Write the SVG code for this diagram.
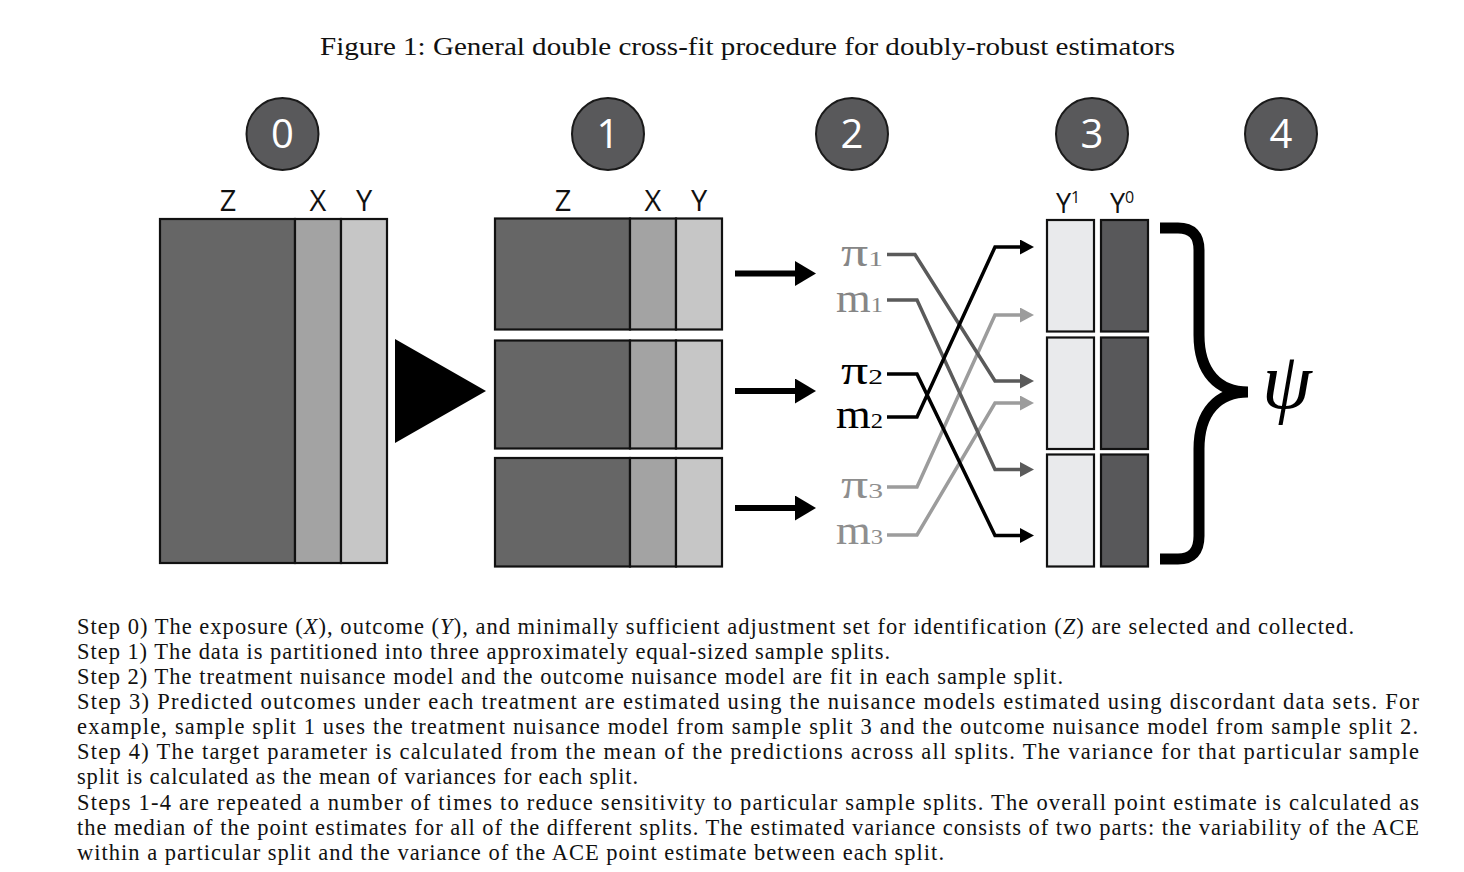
<svg xmlns="http://www.w3.org/2000/svg" width="1464" height="872" viewBox="0 0 1464 872">
<style>
.bg{fill:#ffffff}
.step circle{fill:#59595b;stroke:#1a1a1a;stroke-width:2}
.step text{font-family:"Open Sans","DejaVu Sans",sans-serif;font-size:40px;fill:#ffffff;text-anchor:middle}
.lab{font-family:"Open Sans","DejaVu Sans",sans-serif;font-size:29px;fill:#111;text-anchor:middle}
.ylab{font-family:"Open Sans","DejaVu Sans",sans-serif;font-size:27px;fill:#111}
.z{fill:#666666;stroke:#111;stroke-width:2.2}
.x{fill:#a3a3a3;stroke:#111;stroke-width:2.2}
.y{fill:#c6c6c6;stroke:#111;stroke-width:2.2}
.y1{fill:#e9eaec;stroke:#111;stroke-width:2.2}
.y0{fill:#58585a;stroke:#111;stroke-width:2.2}
.mdl{font-family:"Liberation Serif","Times New Roman",serif;font-size:40px}
.sub{font-size:22px}
.big{stroke:#000;stroke-width:6;fill:none;marker-end:url(#bigArrow)}
.cx{fill:none;stroke-width:3.5;stroke-linejoin:miter}
.k{stroke:#000;marker-end:url(#hK)}
.d{stroke:#5a5a5a;marker-end:url(#hD)}
.l{stroke:#9c9c9c;marker-end:url(#hL)}
.cap{font-family:"Liberation Serif","Times New Roman",serif;font-size:22.5px;fill:#111}
.title{font-family:"Liberation Serif","Times New Roman",serif;font-size:25px;fill:#111}
.m{font-style:italic}
</style>
<defs>
<marker id="bigArrow" markerUnits="userSpaceOnUse" markerWidth="22" markerHeight="26" refX="0" refY="12.5" orient="auto"><path d="M0,0 L21,12.5 L0,25 z" fill="#000"/></marker>
<marker id="hK" markerUnits="userSpaceOnUse" markerWidth="15" markerHeight="16" refX="0" refY="7.5" orient="auto"><path d="M0,0 L14,7.5 L0,15 z" fill="#000"/></marker>
<marker id="hD" markerUnits="userSpaceOnUse" markerWidth="15" markerHeight="16" refX="0" refY="7.5" orient="auto"><path d="M0,0 L14,7.5 L0,15 z" fill="#5a5a5a"/></marker>
<marker id="hL" markerUnits="userSpaceOnUse" markerWidth="15" markerHeight="16" refX="0" refY="7.5" orient="auto"><path d="M0,0 L14,7.5 L0,15 z" fill="#9c9c9c"/></marker>
</defs>
<rect class="bg" x="0" y="0" width="1464" height="872"/>

<text class="title" x="320" y="55" textLength="855" lengthAdjust="spacingAndGlyphs">Figure 1: General double cross-fit procedure for doubly-robust estimators</text>

<g id="step0" class="step"><circle cx="282.5" cy="134" r="36"/><text x="282.5" y="148">0</text></g>
<g id="step1" class="step"><circle cx="608" cy="134" r="36"/><text x="608" y="148">1</text></g>
<g id="step2" class="step"><circle cx="852" cy="134" r="36"/><text x="852" y="148">2</text></g>
<g id="step3" class="step"><circle cx="1092" cy="134" r="36"/><text x="1092" y="148">3</text></g>
<g id="step4" class="step"><circle cx="1281" cy="134" r="36"/><text x="1281" y="148">4</text></g>

<g id="fullData">
<text class="lab" x="228" y="211">Z</text><text class="lab" x="318" y="211">X</text><text class="lab" x="364" y="211">Y</text>
<rect class="z" x="160" y="219" width="135" height="344"/>
<rect class="x" x="295" y="219" width="46" height="344"/>
<rect class="y" x="341" y="219" width="46" height="344"/>
</g>

<g id="partition"><polygon points="395,339 486,391 395,443" fill="#000"/></g>

<g id="splits">
<text class="lab" x="563" y="211">Z</text><text class="lab" x="653" y="211">X</text><text class="lab" x="699" y="211">Y</text>
<g id="split1"><rect class="z" x="495" y="218.5" width="135" height="111"/><rect class="x" x="630" y="218.5" width="46" height="111"/><rect class="y" x="676" y="218.5" width="46" height="111"/></g>
<g id="split2"><rect class="z" x="495" y="340.5" width="135" height="108"/><rect class="x" x="630" y="340.5" width="46" height="108"/><rect class="y" x="676" y="340.5" width="46" height="108"/></g>
<g id="split3"><rect class="z" x="495" y="458" width="135" height="108.5"/><rect class="x" x="630" y="458" width="46" height="108.5"/><rect class="y" x="676" y="458" width="46" height="108.5"/></g>
</g>

<g id="models">
<text class="mdl" x="841" y="266" fill="#868686" textLength="42" lengthAdjust="spacingAndGlyphs">π<tspan class="sub">1</tspan></text>
<text class="mdl" x="836" y="312" fill="#868686" textLength="47" lengthAdjust="spacingAndGlyphs">m<tspan class="sub">1</tspan></text>
<text class="mdl" x="841" y="384" fill="#000" textLength="42" lengthAdjust="spacingAndGlyphs">π<tspan class="sub">2</tspan></text>
<text class="mdl" x="836" y="428" fill="#000" textLength="47" lengthAdjust="spacingAndGlyphs">m<tspan class="sub">2</tspan></text>
<text class="mdl" x="841" y="498" fill="#8e8e8e" textLength="42" lengthAdjust="spacingAndGlyphs">π<tspan class="sub">3</tspan></text>
<text class="mdl" x="836" y="544" fill="#8e8e8e" textLength="47" lengthAdjust="spacingAndGlyphs">m<tspan class="sub">3</tspan></text>
</g>

<g id="predictions">
<text class="ylab" x="1056" y="213">Y<tspan font-size="16" dy="-10">1</tspan></text>
<text class="ylab" x="1110" y="213">Y<tspan font-size="16" dy="-10">0</tspan></text>
<rect class="y1" x="1047" y="220" width="47" height="111.5"/><rect class="y0" x="1101" y="220" width="47" height="111.5"/>
<rect class="y1" x="1047" y="337.5" width="47" height="111.5"/><rect class="y0" x="1101" y="337.5" width="47" height="111.5"/>
<rect class="y1" x="1047" y="454.5" width="47" height="112"/><rect class="y0" x="1101" y="454.5" width="47" height="112"/>
</g>

<g id="estimate">
<path d="M1160,228 H1178 Q1199,228 1199,250 V335 C1199,372 1218,392 1248,392 M1248,392 C1218,392 1199,412 1199,449 V536 Q1199,559 1178,559 H1160" fill="none" stroke="#000" stroke-width="11"/>
<text x="1262" y="408" font-family="Liberation Serif,Times New Roman,serif" font-style="italic" font-size="80" fill="#000">ψ</text>
</g>

<g id="connectors">
<line class="big" x1="735" y1="273.5" x2="795" y2="273.5"/>
<line class="big" x1="735" y1="391" x2="795" y2="391"/>
<line class="big" x1="735" y1="508" x2="795" y2="508"/>
<polyline class="cx l" points="887,487 917,487 995,315 1020,315"/>
<polyline class="cx l" points="887,535 917,535 995,403 1020,403"/>
<polyline class="cx d" points="887,254.5 915,254.5 995,381 1020,381"/>
<polyline class="cx d" points="887,300 917,300 995,469.5 1020,469.5"/>
<polyline class="cx k" points="887,374 917,374 995,535.5 1020,535.5"/>
<polyline class="cx k" points="887,417 917,417 995,247 1020,247"/>
</g>

<g id="caption" class="cap">
<text x="77" y="633.5" textLength="1277">Step 0) The exposure (<tspan class="m">X</tspan>), outcome (<tspan class="m">Y</tspan>), and minimally sufficient adjustment set for identification (<tspan class="m">Z</tspan>) are selected and collected.</text>
<text x="77" y="658.6" textLength="813">Step 1) The data is partitioned into three approximately equal-sized sample splits.</text>
<text x="77" y="683.8" textLength="986">Step 2) The treatment nuisance model and the outcome nuisance model are fit in each sample split.</text>
<text x="77" y="708.9" textLength="1342">Step 3) Predicted outcomes under each treatment are estimated using the nuisance models estimated using discordant data sets.  For</text>
<text x="77" y="734.1" textLength="1341">example, sample split 1 uses the treatment nuisance model from sample split 3 and the outcome nuisance model from sample split 2.</text>
<text x="77" y="759.2" textLength="1342">Step 4) The target parameter is calculated from the mean of the predictions across all splits.  The variance for that particular sample</text>
<text x="77" y="784.4" textLength="561">split is calculated as the mean of variances for each split.</text>
<text x="77" y="809.5" textLength="1342">Steps 1-4 are repeated a number of times to reduce sensitivity to particular sample splits.  The overall point estimate is calculated as</text>
<text x="77" y="834.7" textLength="1342">the median of the point estimates for all of the different splits.  The estimated variance consists of two parts: the variability of the ACE</text>
<text x="77" y="859.8" textLength="867">within a particular split and the variance of the ACE point estimate between each split.</text>
</g>
</svg>
